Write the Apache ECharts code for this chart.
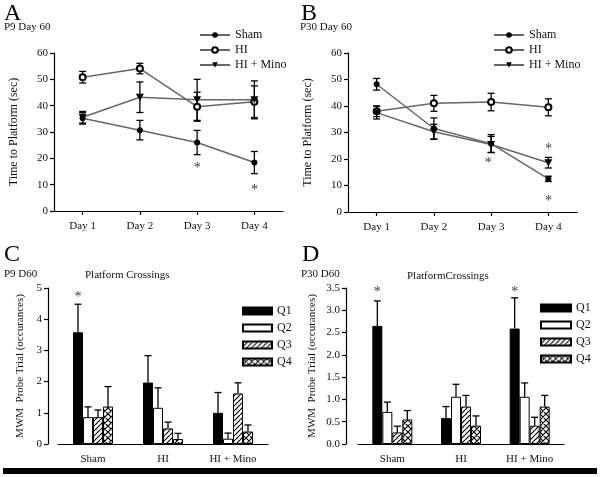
<!DOCTYPE html>
<html>
<head>
<meta charset="utf-8">
<script src="https://cdn.jsdelivr.net/npm/echarts/dist/echarts.min.js"></script>
<style>
  html, body { margin: 0; padding: 0; background: #fff; }
  #chart { width: 600px; height: 477px; }
</style>
</head>
<body>
<div id="chart"></div>
<script>
var days = ['Day 1', 'Day 2', 'Day 3', 'Day 4'];
var groups = ['Sham', 'HI', 'HI + Mino'];
var quads = ['Q1', 'Q2', 'Q3', 'Q4'];
var lineNames = ['Sham', 'HI', 'HI + Mino'];

// panel A - P9 Day 60, time to platform
var shamA = [35.2, 30.7, 26.0, 18.4];
var shamAErr = [2.2, 3.7, 4.6, 4.2];
var hiA = [50.8, 54.1, 39.6, 41.5];
var hiAErr = [2.2, 2.0, 5.5, 6.0];
var minoA = [35.6, 43.2, 42.2, 42.2];
var minoAErr = [2.2, 5.8, 7.8, 7.2];
var starsA = [[2, 17.7], [3, 9.4]];

// panel B - P30 Day 60
var shamB = [48.2, 31.5, 25.8, 12.5];
var shamBErr = [2.2, 4.0, 3.4, 1.0];
var hiB = [38.0, 41.0, 41.5, 39.5];
var hiBErr = [2.0, 3.0, 3.3, 3.2];
var minoB = [37.5, 30.3, 25.5, 18.6];
var minoBErr = [2.4, 2.8, 3.0, 2.0];
var starsB = [[2, 19.8], [3, 25.0], [3, 5.7]];

// panel C - P9 D60 platform crossings
var cQ1 = [3.58, 1.97, 1.0];
var cQ1Err = [0.9, 0.86, 0.65];
var cQ2 = [0.86, 1.16, 0.17];
var cQ2Err = [0.33, 0.64, 0.18];
var cQ3 = [0.86, 0.5, 1.62];
var cQ3Err = [0.23, 0.2, 0.34];
var cQ4 = [1.2, 0.16, 0.4];
var cQ4Err = [0.64, 0.18, 0.21];
var starsC = [[0, 4.84]];

// panel D - P30 D60 platform crossings
var dQ1 = [2.65, 0.58, 2.59];
var dQ1Err = [0.56, 0.26, 0.69];
var dQ2 = [0.72, 1.06, 1.06];
var dQ2Err = [0.22, 0.28, 0.31];
var dQ3 = [0.26, 0.84, 0.41];
var dQ3Err = [0.14, 0.25, 0.19];
var dQ4 = [0.55, 0.41, 0.84];
var dQ4Err = [0.2, 0.22, 0.25];
var starsD = [[0, 3.5], [2, 3.5]];

var FONT = 'Liberation Serif';

function hatch(cross) {
    var s = cross ? 6 : 5;
    var c = document.createElement('canvas');
    c.width = s; c.height = s;
    var g = c.getContext('2d');
    g.fillStyle = '#fff';
    g.fillRect(0, 0, s, s);
    g.strokeStyle = '#000';
    g.lineWidth = 1.2;
    g.beginPath();
    for (var k = -1; k <= 1; k++) {
        g.moveTo(k * s, s); g.lineTo(k * s + s, 0);
        if (cross) { g.moveTo(k * s, 0); g.lineTo(k * s + s, s); }
    }
    g.stroke();
    return { image: c, repeat: 'repeat' };
}

var quadFill = ['#000', '#fff', hatch(false), hatch(true)];

var dom = document.getElementById('chart');
var myChart = echarts.init(dom);

function rangeData(vals, errs) {
    return vals.map(function (v, i) { return [i, v - errs[i], v + errs[i]]; });
}

function upData(vals, errs, q) {
    return vals.map(function (v, i) { return [i, v, v + errs[i], q]; });
}

function renderRange(params, api) {
    var lo = api.coord([api.value(0), api.value(1)]);
    var hi = api.coord([api.value(0), api.value(2)]);
    var st = { stroke: '#000', lineWidth: 1.3 };
    return {
        type: 'group',
        children: [
            { type: 'line', shape: { x1: lo[0], y1: lo[1], x2: hi[0], y2: hi[1] }, style: st },
            { type: 'line', shape: { x1: lo[0] - 3.5, y1: lo[1], x2: lo[0] + 3.5, y2: lo[1] }, style: st },
            { type: 'line', shape: { x1: hi[0] - 3.5, y1: hi[1], x2: hi[0] + 3.5, y2: hi[1] }, style: st }
        ]
    };
}

function renderUp(params, api) {
    var off = (api.value(3) - 1.5) * 10;
    var lo = api.coord([api.value(0), api.value(1)]);
    var hi = api.coord([api.value(0), api.value(2)]);
    var x = lo[0] + off;
    var st = { stroke: '#000', lineWidth: 1.3 };
    return {
        type: 'group',
        children: [
            { type: 'line', shape: { x1: x, y1: lo[1], x2: x, y2: hi[1] }, style: st },
            { type: 'line', shape: { x1: x - 3.5, y1: hi[1], x2: x + 3.5, y2: hi[1] }, style: st }
        ]
    };
}

function lineSeries(name, data, idx) {
    var s = {
        name: name, type: 'line', data: data,
        xAxisIndex: idx, yAxisIndex: idx,
        symbolSize: 6, z: 3,
        itemStyle: { color: '#000' },
        lineStyle: { color: '#666', width: 1.5 }
    };
    if (name == 'Sham') s.symbol = 'circle';
    if (name == 'HI') { s.symbol = 'emptyCircle'; s.itemStyle.borderWidth = 1; }
    if (name == 'HI + Mino') { s.symbol = 'path://M0,0L10,0L5,9Z'; s.symbolSize = [8, 7]; }
    return s;
}

function errSeries(data, idx) {
    return { type: 'custom', name: 'err' + idx, xAxisIndex: idx, yAxisIndex: idx,
        data: data, renderItem: idx < 2 ? renderRange : renderUp, z: 2, silent: true,
        encode: { x: 0, y: [1, 2] } };
}

function starSeries(data, idx, dx) {
    return { type: 'scatter', name: 'star' + idx, xAxisIndex: idx, yAxisIndex: idx,
        data: data, symbolSize: 1, itemStyle: { color: 'rgba(0,0,0,0)' }, silent: true, z: 5,
        label: { show: true, formatter: '*', position: 'inside', offset: [dx, 4],
            fontSize: 14, color: '#000', fontFamily: FONT } };
}

function barSeries(q, data, idx) {
    return { name: quads[q], type: 'bar', data: data, xAxisIndex: idx, yAxisIndex: idx,
        barWidth: 10, barGap: '0%',
        itemStyle: { color: quadFill[q], borderColor: '#000', borderWidth: 1 } };
}

var axisLine = { show: true, lineStyle: { color: '#000', width: 1.2 } };
var axisTick = { show: true, length: 4, lineStyle: { color: '#000', width: 1.2 } };
var lbl = { color: '#111', fontSize: 11, fontFamily: FONT };

function timeY(idx) {
    return { type: 'value', gridIndex: idx, min: 0, max: 60, interval: 10,
        name: 'Time to Platform (sec)', nameLocation: 'middle', nameGap: 34,
        nameTextStyle: { color: '#111', fontSize: 12, fontFamily: FONT },
        axisLine: axisLine, axisTick: axisTick, splitLine: { show: false },
        axisLabel: Object.assign({ margin: 6 }, lbl) };
}

function crossY(idx, max, interval, off, gap, dec) {
    return { type: 'value', gridIndex: idx, min: 0, max: max, interval: interval, offset: off,
        name: 'MWM  Probe Trial (occurances)', nameLocation: 'middle', nameGap: gap,
        nameTextStyle: { color: '#111', fontSize: 11, fontFamily: FONT },
        axisLine: axisLine, axisTick: axisTick, splitLine: { show: false },
        axisLabel: Object.assign({ margin: 6, formatter: function (v) { return v.toFixed(dec); } }, lbl) };
}

var option = {
    animation: false,
    backgroundColor: '#fff',
    textStyle: { fontFamily: FONT },
    grid: [
        { left: 54, top: 53, width: 229, height: 158 },
        { left: 348, top: 53, width: 229, height: 159 },
        { left: 58, top: 288, width: 210, height: 156 },
        { left: 358, top: 288, width: 206, height: 156 }
    ],
    xAxis: [
        { type: 'category', gridIndex: 0, data: days, axisLine: axisLine,
          axisTick: Object.assign({ alignWithLabel: true }, axisTick), axisLabel: Object.assign({ margin: 10 }, lbl) },
        { type: 'category', gridIndex: 1, data: days, axisLine: axisLine,
          axisTick: Object.assign({ alignWithLabel: true }, axisTick), axisLabel: Object.assign({ margin: 10 }, lbl) },
        { type: 'category', gridIndex: 2, data: groups, axisLine: axisLine,
          axisTick: { show: false }, axisLabel: Object.assign({ margin: 10 }, lbl) },
        { type: 'category', gridIndex: 3, data: groups, axisLine: axisLine,
          axisTick: { show: false }, axisLabel: Object.assign({ margin: 10 }, lbl) }
    ],
    yAxis: [
        timeY(0),
        timeY(1),
        crossY(2, 5, 1, 10, 22, 0),
        crossY(3, 3.5, 0.5, 12, 28, 1)
    ],
    legend: [
        { data: lineNames, orient: 'vertical', left: 194, top: 23, itemWidth: 30, itemHeight: 7, itemGap: 1,
          textStyle: { fontSize: 12, lineHeight: 14, color: '#111', fontFamily: FONT } },
        { data: lineNames, orient: 'vertical', left: 488, top: 23, itemWidth: 30, itemHeight: 7, itemGap: 1,
          textStyle: { fontSize: 12, lineHeight: 14, color: '#111', fontFamily: FONT } },
        { data: quads, orient: 'vertical', left: 237, top: 299, itemWidth: 29, itemHeight: 7, itemGap: 3, icon: 'rect',
          textStyle: { fontSize: 12, lineHeight: 14, color: '#111', fontFamily: FONT } },
        { data: quads, orient: 'vertical', left: 535, top: 296, itemWidth: 30, itemHeight: 7, itemGap: 3, icon: 'rect',
          textStyle: { fontSize: 12, lineHeight: 14, color: '#111', fontFamily: FONT } }
    ],
    graphic: [
        { type: 'text', left: 4, top: 2, style: { text: 'A', font: '24px "Liberation Serif"', fill: '#000' } },
        { type: 'text', left: 4, top: 22, style: { text: 'P9 Day 60', font: '11px "Liberation Serif"', fill: '#111' } },
        { type: 'text', left: 301, top: 2, style: { text: 'B', font: '24px "Liberation Serif"', fill: '#000' } },
        { type: 'text', left: 300, top: 22, style: { text: 'P30 Day 60', font: '11px "Liberation Serif"', fill: '#111' } },
        { type: 'text', left: 4, top: 243, style: { text: 'C', font: '24px "Liberation Serif"', fill: '#000' } },
        { type: 'text', left: 4, top: 269, style: { text: 'P9 D60', font: '11px "Liberation Serif"', fill: '#111' } },
        { type: 'text', left: 85, top: 270, style: { text: 'Platform Crossings', font: '11px "Liberation Serif"', fill: '#111' } },
        { type: 'text', left: 302, top: 243, style: { text: 'D', font: '24px "Liberation Serif"', fill: '#000' } },
        { type: 'text', left: 301, top: 269, style: { text: 'P30 D60', font: '11px "Liberation Serif"', fill: '#111' } },
        { type: 'text', left: 407, top: 271, style: { text: 'PlatformCrossings', font: '11px "Liberation Serif"', fill: '#111' } },
        { type: 'rect', left: 3, top: 468, shape: { width: 594, height: 6 }, style: { fill: '#000' } }
    ],
    series: [
        errSeries(rangeData(shamA, shamAErr), 0),
        errSeries(rangeData(hiA, hiAErr), 0),
        errSeries(rangeData(minoA, minoAErr), 0),
        lineSeries('Sham', shamA, 0),
        lineSeries('HI', hiA, 0),
        lineSeries('HI + Mino', minoA, 0),
        starSeries(starsA, 0, 0),

        errSeries(rangeData(shamB, shamBErr), 1),
        errSeries(rangeData(hiB, hiBErr), 1),
        errSeries(rangeData(minoB, minoBErr), 1),
        lineSeries('Sham', shamB, 1),
        lineSeries('HI', hiB, 1),
        lineSeries('HI + Mino', minoB, 1),
        starSeries(starsB.slice(0, 1), 1, -3),
        starSeries(starsB.slice(1), 1, 0),

        barSeries(0, cQ1, 2), barSeries(1, cQ2, 2), barSeries(2, cQ3, 2), barSeries(3, cQ4, 2),
        errSeries(upData(cQ1, cQ1Err, 0), 2), errSeries(upData(cQ2, cQ2Err, 1), 2),
        errSeries(upData(cQ3, cQ3Err, 2), 2), errSeries(upData(cQ4, cQ4Err, 3), 2),
        starSeries(starsC, 2, -15),

        barSeries(0, dQ1, 3), barSeries(1, dQ2, 3), barSeries(2, dQ3, 3), barSeries(3, dQ4, 3),
        errSeries(upData(dQ1, dQ1Err, 0), 3), errSeries(upData(dQ2, dQ2Err, 1), 3),
        errSeries(upData(dQ3, dQ3Err, 2), 3), errSeries(upData(dQ4, dQ4Err, 3), 3),
        starSeries(starsD, 3, -15)
    ]
};

if (option && typeof option === 'object') {
    myChart.setOption(option);
}
</script>
</body>
</html>
